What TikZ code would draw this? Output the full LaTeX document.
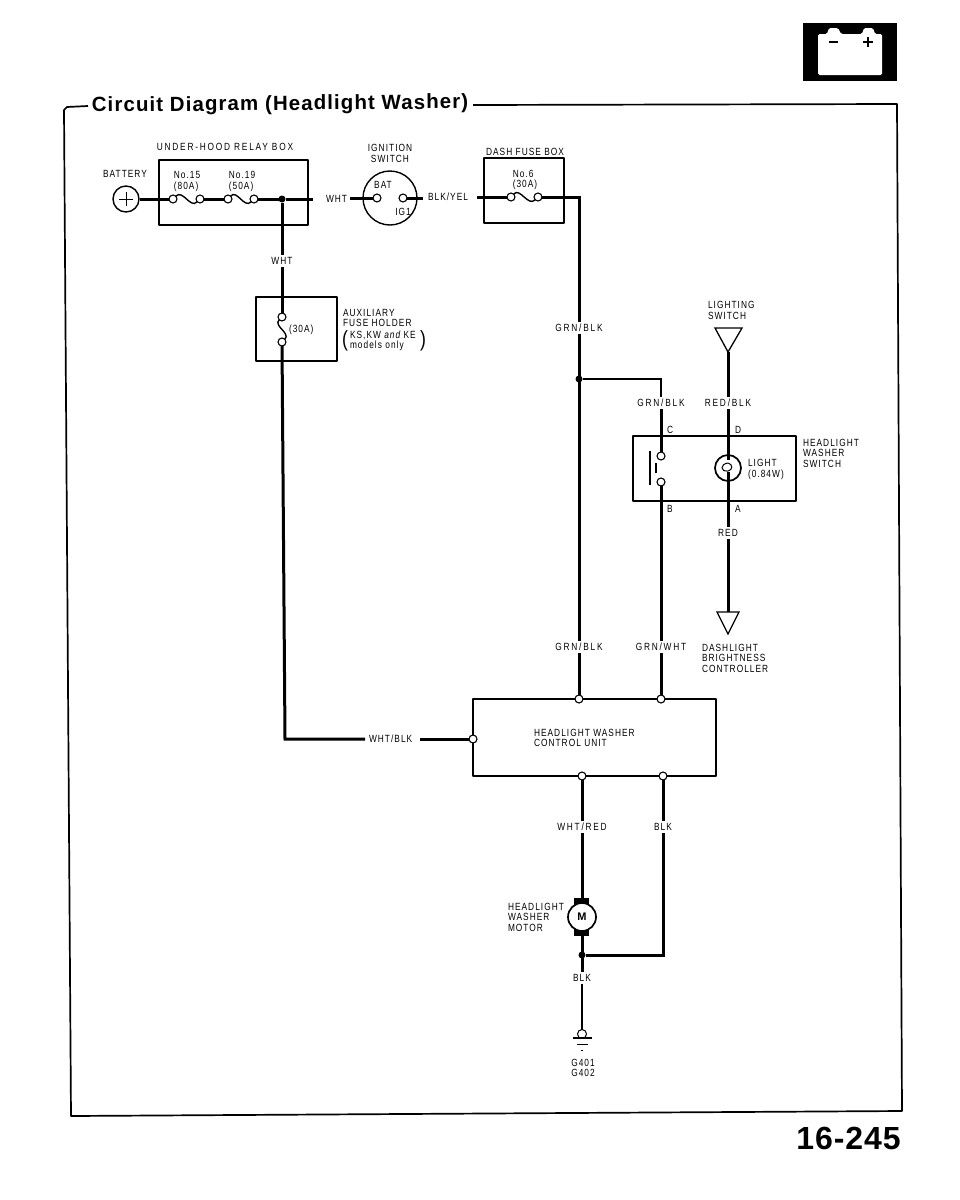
\documentclass[tikz,border=0pt]{standalone}
\usepackage{fontspec}
\setmainfont{Liberation Sans}[FakeStretch=0.8,LetterSpace=10]
\newfontfamily\titlefont{Liberation Sans Bold}[LetterSpace=5.2]
\newfontfamily\pagefont{Liberation Sans Bold}[LetterSpace=3]
\newfontfamily\motorfont{Liberation Sans Bold}
\tikzset{
  x=1pt,y=-1pt,
  wire/.style={line width=3pt,line cap=butt},
  fuse/.style={line width=1.4pt},
  boxl/.style={draw,line width=1.6pt,line join=round},
  lab/.style={inner sep=0pt,outer sep=2.5pt,font=\fontsize{10.4}{10.4}\selectfont,align=left,text depth=0pt},
  labc/.style={lab,align=center},
  labw/.style={lab,anchor=west,outer sep=0pt},
  widelab/.style={lab,font=\fontsize{10.4}{10.4}\selectfont\addfontfeatures{LetterSpace=17}},
  term/.style={circle,draw,fill=white,line width=1.1pt,minimum size=8pt,inner sep=0pt,outer sep=0pt},
  jun/.style={circle,fill=black,minimum size=7pt,inner sep=0pt,outer sep=0pt},
  outer/.style={line width=1.7pt,line join=round},
  tri/.style={line width=1.3pt,line join=miter},
}
\begin{document}
\begin{tikzpicture}
\useasboundingbox (0,0) rectangle (960,1200);
% battery icon
\fill (803,23) rectangle (897,81);
\fill[white,rounded corners=1.5pt] (818,34) -- (827,34) -- (829,28) -- (838,28) -- (841,34) -- (862,34) -- (864,28) -- (873,28) -- (875,34) -- (882,34) -- (882,75) -- (818,75) -- cycle;
\draw[line width=1.6pt] (829,42) -- (838,42);
\draw[line width=1.8pt] (863,42) -- (873,42) (868,37) -- (868,47);
% outer frame
\node[inner sep=0pt,rotate=0.5,font=\titlefont\fontsize{20.5}{21}\selectfont] (title) at (280,105) {Circuit Diagram (Headlight Washer)};
\draw[outer] (88,106) -- (67,107) -- (64,110) -- (71,1116) -- (902,1111) -- (897,104) -- (473,105);
% boxes
\draw[boxl] (159,160) rectangle (308,225);
\draw[boxl] (484,158) rectangle (564,223);
\draw[boxl] (256,297) rectangle (337,361);
\draw[boxl] (633,436) rectangle (796,501);
\draw[boxl] (473,699) rectangle (716,776);
% battery
\node[circle,draw,line width=1.4pt,minimum size=26pt,inner sep=0pt] (bat) at (126,199) {};
\draw[line width=1pt] (126,192) -- (126,206) (119,199) -- (133,199);
\node[lab] (batl) at (125,174) {BATTERY};
\node[widelab] (uhl) at (225,147) {UNDER-HOOD RELAY BOX};
% relay box
\node[term] (f15a) at (173,199) {};
\node[term] (f15b) at (200,199) {};
\node[term] (f19a) at (228,199) {};
\node[term] (f19b) at (254,199) {};
\node[jun] (j1) at (282,199) {};
\draw[wire] (bat) -- (f15a);
\draw[fuse] (f15a) .. controls (183,189) and (190,209) .. (f15b);
\draw[wire] (f15b) -- (f19a);
\draw[fuse] (f19a) .. controls (237,189) and (244,209) .. (f19b);
\node[lab] (no15) at (187,180.5) {No.15\\(80A)};
\node[lab] (no19) at (242,180.5) {No.19\\(50A)};
\node[labw] (wht1) at (326,199) {WHT};
\coordinate (wgap) at (313,199);
\draw[wire] (f19b) -- (j1) -- (wgap);
% ignition switch
\node[circle,draw,line width=1.4pt,minimum size=54pt,inner sep=0pt] (ign) at (390,198) {};
\node[labc] (ignl) at (390,153.5) {IGNITION\\SWITCH};
\node[lab] (batt) at (383,185) {BAT};
\node[lab] (ig1) at (403,212) {IG1};
\node[term] (iga) at (377,198) {};
\node[term] (igb) at (403,198) {};
\coordinate (wa) at (350,198);
\coordinate (wb1) at (423,198);
\draw[wire] (wa) -- (iga);
\draw[wire] (igb) -- (wb1);
\node[labw] (by) at (428,197) {BLK/YEL};
% dash fuse box
\node[lab] (dfl) at (525,152) {DASH FUSE BOX};
\node[lab] (no6) at (525,179) {No.6\\(30A)};
\node[term] (f6a) at (511,197) {};
\node[term] (f6b) at (538,197) {};
\coordinate (wc) at (477,197);
\draw[fuse] (f6a) .. controls (520,187) and (528,207) .. (f6b);
\draw[wire] (wc) -- (f6a);
\node[widelab] (g1) at (579,328) {GRN/BLK};
\draw[wire] (f6b) -| (g1.north);
% wht down
\node[lab] (wht2) at (282,261) {WHT};
\node[term] (a1) at (282,317) {};
\node[term] (a2) at (282,342) {};
\draw[wire] (j1) -- (wht2.north);
\draw[wire] (wht2.south) -- (a1);
\draw[fuse] (a1) .. controls (273,326) and (291,333) .. (a2);
\node[labw] (a30) at (289,329) {(30A)};
\node[labw] (aux) at (343,318) {AUXILIARY\\FUSE HOLDER};
\node[labw] (ks) at (350,339.5) {KS,KW {\itshape and} KE\\models only};
\node[lab,font=\fontsize{22}{22}\selectfont] (pl) at (345,339) {(};
\node[lab,font=\fontsize{22}{22}\selectfont] (pr) at (423,339) {)};
\node[labw] (wb) at (369,739) {WHT/BLK};
\coordinate (corner) at (285,739);
\coordinate (wd) at (365,739);
\coordinate (we) at (420,739);
\node[term] (cw) at (473,739) {};
\draw[wire] (a2) -- (corner) -- (wd);
\draw[wire] (we) -- (cw);
% grn blk main
\node[widelab] (g2) at (579,647) {GRN/BLK};
\draw[wire] (g1.south) -- (g2.north);
\node[jun] (j2) at (579,379) {};
\node[widelab] (g3) at (661,403) {GRN/BLK};
\draw[line width=2.4pt] (j2) -| (g3.north);
% lighting switch
\node[labw] (ltl) at (708,310.5) {LIGHTING\\SWITCH};
\draw[tri] (715,328) -- (742,328) -- (728,352) -- cycle;
\coordinate (t1) at (728,352);
\node[widelab] (r1) at (728,403) {RED/BLK};
\draw[wire] (t1) -- (r1.north);
\node[lab] at (670,430) {C};
\node[lab] at (738,430) {D};
% switch
\node[term] (s1) at (661,456) {};
\node[term] (s2) at (661,482) {};
\draw[wire] (g3.south) -- (s1);
\draw[line width=1.7pt] (650,451) -- (650,485);
\draw[line width=1.2pt] (656,463) -- (656,473);
\node[circle,draw,line width=1.7pt,minimum size=26pt,inner sep=0pt] (lamp) at (728,468) {};
\draw[wire] (r1.south) -- (728,460);
\draw[line width=1pt] (728,463) .. controls (720,464) and (720,472) .. (728,471) .. controls (733,470) and (733,464) .. (728,463);
\node[lab] (rd) at (728,533) {RED};
\draw[wire] (728,472) -- (rd.north);
\node[labw] (lg) at (748,468.5) {LIGHT\\(0.84W)};
\node[labw] (hws) at (803,453) {HEADLIGHT\\WASHER\\SWITCH};
\node[lab] at (670,509) {B};
\node[lab] at (738,509) {A};
\coordinate (t2) at (728,612);
\draw[wire] (rd.south) -- (t2);
\draw[tri] (717,612) -- (739,612) -- (728,634) -- cycle;
\node[widelab] (g4) at (661,647) {GRN/WHT};
\draw[wire] (s2) -- (g4.north);
\node[labw] (dbc) at (702,658) {DASHLIGHT\\BRIGHTNESS\\CONTROLLER};
\node[term] (u3) at (579,699) {};
\node[term] (u4) at (661,699) {};
\draw[wire] (g2.south) -- (u3);
\draw[wire] (g4.south) -- (u4);
\node[labw] (cul) at (534,738) {HEADLIGHT WASHER\\CONTROL UNIT};
% lower
\node[term] (u1) at (582,776) {};
\node[term] (u2) at (663,776) {};
\node[widelab] (wr) at (582,827) {WHT/RED};
\node[lab] (bk) at (663,827) {BLK};
\draw[wire] (u1) -- (wr.north);
\draw[wire] (u2) -- (bk.north);
\fill (574,898) rectangle (589,907);
\fill (574,928) rectangle (589,936);
\node[circle,draw,fill=white,line width=1.7pt,minimum size=28pt,inner sep=0pt,font=\motorfont\fontsize{11}{11}\selectfont] (m) at (582,917) {M};
\draw[wire] (wr.south) -- (m);
\node[jun] (j3) at (582,955) {};
\node[lab] (b2) at (582,978) {BLK};
\draw[wire] (m) -- (b2.north);
\draw[wire] (bk.south) |- (j3);
\node[labw] (mot) at (508,917) {HEADLIGHT\\WASHER\\MOTOR};
\node[term,minimum size=9pt,line width=1pt] (gnd) at (582,1034) {};
\draw[line width=2.2pt] (b2.south) -- (gnd);
\draw[line width=1.1pt] (573,1038) -- (592,1038);
\draw[line width=.6pt] (577,1044) -- (588,1044);
\draw[line width=.8pt] (581,1050) -- (583,1050);
\node[labc] (gl) at (583,1068) {G401\\G402};
\node[inner sep=0pt,font=\pagefont\fontsize{32}{32}\selectfont] (pg) at (848.5,1138.5) {16-245};
\end{tikzpicture}
\end{document}
